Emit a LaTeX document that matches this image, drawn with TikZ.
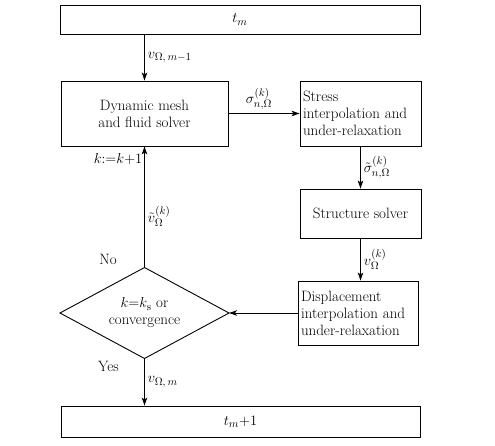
\documentclass[tikz,border=0pt]{standalone}
\usetikzlibrary{shapes.geometric,arrows.meta}
\begin{document}
\begin{tikzpicture}[x=1pt,y=-1pt,
  font=\fontsize{15}{17}\selectfont,
  box/.style={draw, line width=0.9pt, inner sep=2pt, align=center},
  arr/.style={-{Stealth[length=8pt,width=5.5pt,inset=2pt]}, line width=0.9pt},
  lbl/.style={font=\fontsize{15}{16}\selectfont, inner sep=3pt}]
\useasboundingbox (0,0) rectangle (495,446);
\node[box, minimum width=360pt, minimum height=29pt] (top) at (240,19.5) {$t_m$};
\node[box, minimum width=167pt, minimum height=65pt] (fluid) at (144.5,113.5) {Dynamic mesh\\and fluid solver};
\node[box, minimum height=65pt, text width=115pt, align=left, inner sep=3pt] (stress) at (360.5,113.5) {Stress\\interpolation and\\under-relaxation};
\node[box, minimum width=121pt, minimum height=49pt] (struct) at (360.5,213.5) {Structure solver};
\node[box, minimum height=64pt, text width=114pt, align=left, inner sep=3pt] (disp) at (358,313) {Displacement\\interpolation and\\under-relaxation};
\node[draw, diamond, shape aspect=1.86, minimum width=169pt, minimum height=91pt, inner sep=0pt, outer sep=0pt, align=center, line width=0.9pt] (dec) at (144.5,313) {$k{=}k_{\mathrm s}$ or\\convergence};
\node[box, minimum width=359pt, minimum height=31pt] (bot) at (240.5,421.5) {$t_m{+}1$};
\draw[arr] (top.south -| fluid.north) -- (fluid.north) node[midway, right, lbl] (l1) {$v_{\Omega,\,m-1}$};
\draw[arr] (fluid.east) -- (stress.west) node[midway, above, lbl, xshift=-5pt] (l2) {$\sigma^{(k)}_{n,\Omega}$};
\draw[arr] (stress.south -| struct.north) -- (struct.north) node[midway, right, lbl] (l3) {$\tilde\sigma^{(k)}_{n,\Omega}$};
\draw[arr] (struct.south) -- (struct.south |- disp.north) node[midway, right, lbl] (l4) {$v^{(k)}_{\Omega}$};
\draw[arr] (disp.west) -- (dec.east);
\draw[arr] (dec.north) -- (fluid.south) node[pos=0.42, right, lbl] (l5) {$\tilde v^{(k)}_{\Omega}$};
\node[lbl, anchor=north east, inner sep=2pt] (kk) at ([yshift=-5pt]fluid.south) {$k{:=}k{+}1$};
\node (no) at (108,259) {No};
\node (yes) at (108.5,366) {Yes};
\draw[arr] (dec.south) -- (dec.south |- bot.north) node[midway, right, lbl] (l6) {$v_{\Omega,\,m}$};
\end{tikzpicture}
\end{document}
